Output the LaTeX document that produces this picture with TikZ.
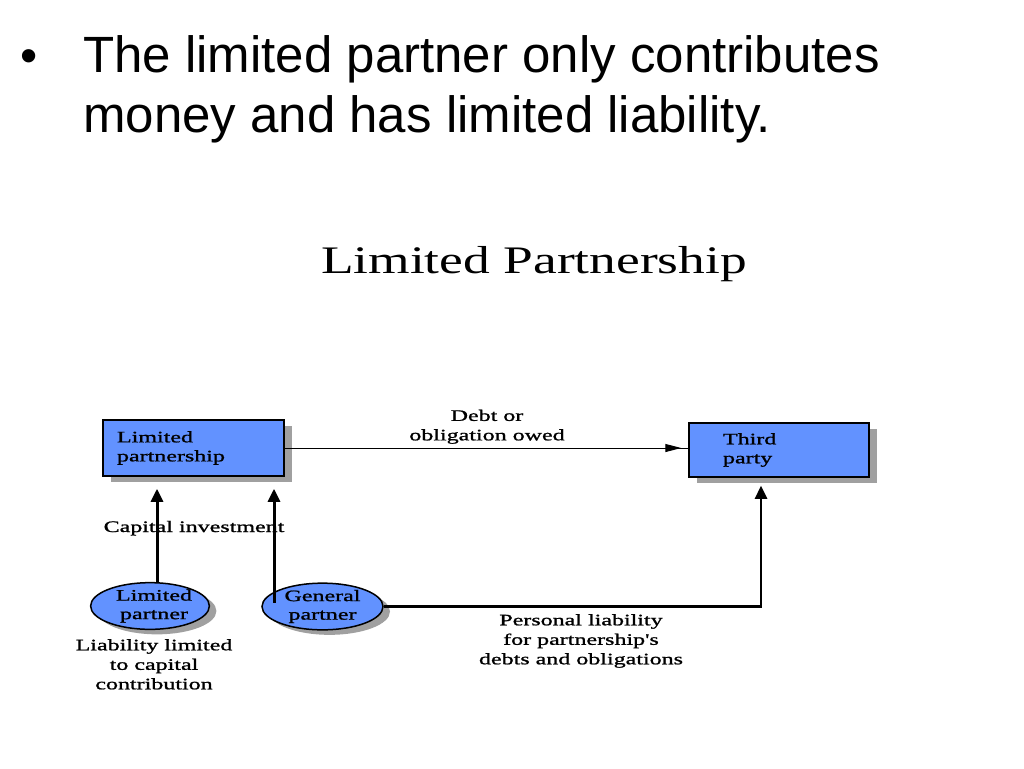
\documentclass[tikz,border=0pt]{standalone}
\usepackage{fontspec}
\setmainfont{Liberation Sans}
\newfontfamily\diagfont[FakeStretch=1.5,FakeBold=1.2]{Liberation Serif}
\newfontfamily\titlefont[FakeStretch=1.37]{Liberation Serif}
\usetikzlibrary{shapes.geometric,shadows,decorations.markings,arrows.meta,positioning}
\definecolor{boxblue}{RGB}{98,146,255}
\definecolor{shade}{RGB}{160,160,160}

\tikzset{
	entity/.style={draw, rectangle, fill=boxblue, line width=1.5pt, align=left,
		font=\diagfont\fontsize{16}{19}\selectfont,
		general shadow={fill=shade, shadow xshift=8pt, shadow yshift=-6pt}},
	partner/.style={draw, ellipse, fill=boxblue, line width=1.5pt, inner sep=0pt,
		minimum width=116pt, minimum height=42pt, align=center,
		font=\diagfont\fontsize{16}{18.5}\selectfont,
		general shadow={fill=shade, shadow xshift=7pt, shadow yshift=-5pt}},
	lbl/.style={inner sep=0pt, align=center, font=\diagfont\fontsize{16}{19.5}\selectfont},
	flow/.style={->, >={Triangle[length=13pt,width=12pt]}, line width=3pt}
}

\begin{document}
\begin{tikzpicture}[x=1pt,y=-1pt]
	\useasboundingbox (0,0) rectangle (1024,768);
	
	% bullet point and title
	\node[anchor=base west, inner sep=0pt, font=\fontsize{49}{60}\selectfont] (bullet) at (20,72) {•};
	\node[anchor=north west, inner sep=0pt, align=left, font=\fontsize{51}{60}\selectfont] (point) at (83,35.5) {The limited partner only contributes\\money and has limited liability.};
	\node[anchor=base, inner sep=0pt, font=\titlefont\fontsize{39}{45}\selectfont] (title) at (534,273) {Limited Partnership};
	
	% boxes and partners
	\node[entity, minimum width=181pt, minimum height=56pt, text width=153pt, inner xsep=14pt] (lp) at (193.5,448) {Limited\\partnership};
	\node[entity, minimum width=180pt, minimum height=54pt, text width=112pt, inner xsep=34pt] (tp) at (779,450) {Third\\party};
	\node[partner] (lpart) at (150,606) {\hspace*{8pt}Limited\\\hspace*{8pt}partner};
	\node[partner, minimum width=121pt, minimum height=43pt] (gp) at (322.5,606.5) {General\\partner};
	
	% labels
	\node[lbl, anchor=south] (debt) at (487,444) {Debt or\\obligation owed};
	\node[lbl, anchor=base] (capinv) at (194,532) {Capital investment};
	\node[lbl, anchor=north] (liab) at (154,639) {Liability limited\\to capital\\contribution};
	\node[lbl, anchor=north] (pers) at (581,614) {Personal liability\\for partnership's\\debts and obligations};
	
	% connectors
	\draw [line width=1pt, postaction={decorate, decoration={markings, mark=at position -7pt with {\arrow{Triangle[length=16pt,width=8pt]}}}}] (lp.east) -- (lp.east -| tp.west);
	\draw [flow, shorten >=12pt] ([xshift=7pt]lpart.north) -- ([xshift=7pt]lpart.north |- lp.south);
	\draw [flow, shorten >=12pt] ([xshift=-48.5pt, yshift=4pt]gp.center) -- ([xshift=-48.5pt]gp.center |- lp.south);
	\draw [flow, line width=2.5pt, shorten >=8pt] (gp.east) -- ([xshift=-18pt]tp.south |- gp.east) -- ([xshift=-18pt]tp.south);
\end{tikzpicture}
\end{document}
